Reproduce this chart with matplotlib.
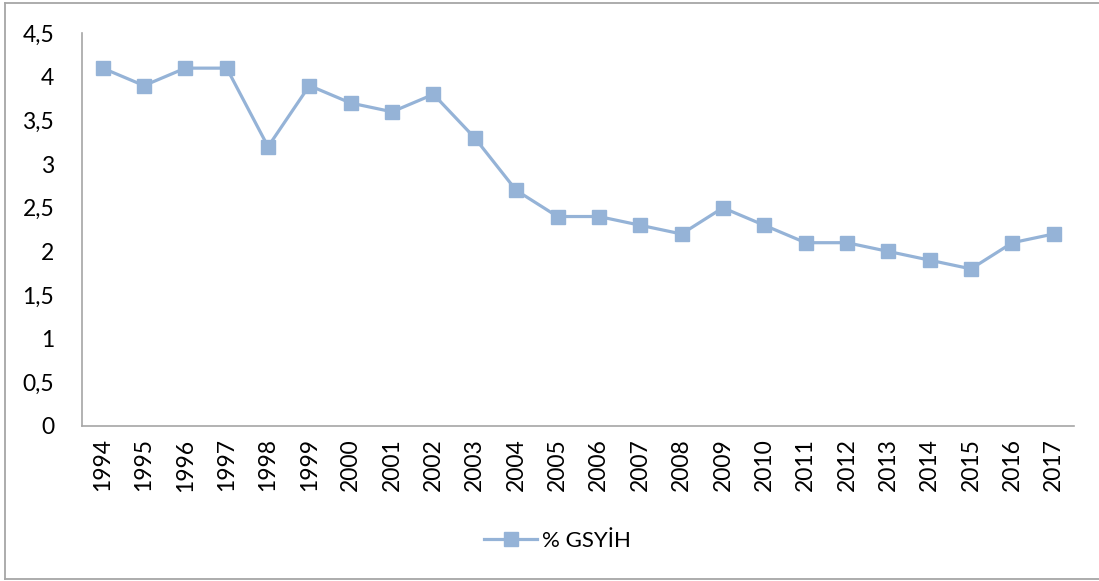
import matplotlib
matplotlib.use("Agg")
import matplotlib.pyplot as plt
from matplotlib.lines import Line2D

years = [str(y) for y in range(1994, 2018)]
gsyih = [4.1, 3.9, 4.1, 4.1, 3.2, 3.9, 3.7, 3.6, 3.8, 3.3, 2.7, 2.4,
         2.4, 2.3, 2.2, 2.5, 2.3, 2.1, 2.1, 2.0, 1.9, 1.8, 2.1, 2.2]
yticks = [0, 0.5, 1, 1.5, 2, 2.5, 3, 3.5, 4, 4.5]
ylabels = ["0", "0,5", "1", "1,5", "2", "2,5", "3", "3,5", "4", "4,5"]

plt.rcParams["font.family"] = ["Lato", "DejaVu Sans"]
COLOR = "#95B3D7"

fig = plt.figure(figsize=(10.99, 5.81), dpi=100)
ax = fig.add_axes([0.0746, 0.2668, 0.903, 0.676])

x = range(len(years))
ax.plot(x, gsyih, color=COLOR, linewidth=2.3, marker="s", markersize=9.5,
        label="% GSYİH")

ax.set_xlim(-0.5, len(years) - 0.5)
ax.set_ylim(0, 4.5)
ax.set_yticks(yticks)
ax.set_yticklabels(ylabels, fontsize=16.5)
ax.set_xticks(list(x))
ax.set_xticklabels(years, rotation=90, fontsize=16.5)
ax.tick_params(length=0, pad=9)
ax.tick_params(axis="y", pad=20)
for s in ("top", "right"):
    ax.spines[s].set_visible(False)
for s in ("left", "bottom"):
    ax.spines[s].set_color("#A6A6A6")
    ax.spines[s].set_linewidth(1.2)

fig.legend(loc="center", bbox_to_anchor=(0.507, 0.069), frameon=False,
           fontsize=16, handlelength=2.4, handletextpad=0.2)

# outer chart-area border
for xs, ys in [((0.005, 1.0), (0.995, 0.995)),
               ((0.005, 1.0), (0.003, 0.003)),
               ((0.005, 0.005), (0.003, 0.995))]:
    fig.add_artist(Line2D(xs, ys, color="#A6A6A6", linewidth=1.3))

fig.savefig("out.png", dpi=100)
